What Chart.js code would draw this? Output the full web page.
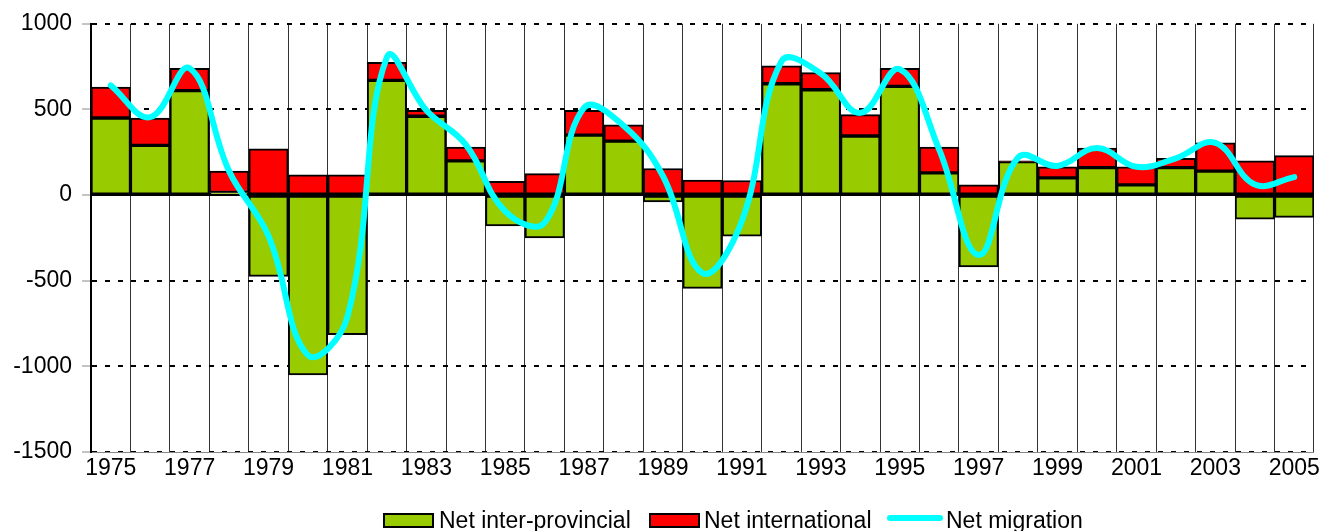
<!DOCTYPE html>
<html>
<head>
<meta charset="utf-8">
<script src="https://cdn.jsdelivr.net/npm/chart.js@4.4.0/dist/chart.umd.min.js"></script>
<style>
  html, body { margin: 0; padding: 0; background: #fff; }
  #wrap { position: relative; width: 1323px; height: 531px; }
  canvas { position: absolute; left: 0; top: 0; }
  .lg { position: absolute; font-family: "Liberation Sans", Arial, sans-serif; font-size: 23px; line-height: 22px; color: #000; white-space: nowrap; }
  .box { position: absolute; box-sizing: border-box; border: 2px solid #000; }
  .ln { position: absolute; background: #00FFFF; border-radius: 3px; }
</style>
</head>
<body>
<div id="wrap">
  <canvas id="c" width="1323" height="531"></canvas>
  <div class="box" style="left:383px;top:513px;width:51px;height:15px;background:#99CC00;"></div>
  <div class="lg" style="left:439px;top:509px;">Net inter-provincial</div>
  <div class="box" style="left:649px;top:513px;width:51px;height:15px;background:#FF0000;"></div>
  <div class="lg" style="left:704px;top:509px;">Net international</div>
  <div class="ln" style="left:887px;top:515px;width:56px;height:6px;"></div>
  <div class="lg" style="left:946px;top:509px;">Net migration</div>
</div>
<script>
const years = [1975,1976,1977,1978,1979,1980,1981,1982,1983,1984,1985,1986,1987,1988,1989,1990,
               1991,1992,1993,1994,1995,1996,1997,1998,1999,2000,2001,2002,2003,2004,2005];
const netInterProvincial = [450,290,610,15,-475,-1050,-815,670,460,200,-180,-250,350,315,-40,-545,
                            -240,650,615,345,635,130,-420,195,100,160,60,160,140,-140,-130];
const netInternational = [180,160,130,125,270,118,118,105,35,80,80,125,145,95,155,88,
                          85,105,100,125,105,150,60,5,65,115,105,55,165,200,230];
const netMigration = [640,455,740,140,-240,-935,-710,805,495,295,-95,-160,510,405,110,-455,
                      -150,780,710,480,735,265,-350,220,170,275,165,215,305,62,105];
const yTicks = [-1500,-1000,-500,0,500,1000];

const FONT = '"Liberation Sans", Arial, sans-serif';

new Chart(document.getElementById('c'), {
  data: {
    labels: years.map(String),
    datasets: [
      {
        type: 'line', label: 'Net migration', data: netMigration, stack: 'line',
        borderColor: '#00FFFF', borderWidth: 6, pointRadius: 0, tension: 0.4,
        fill: false, order: 0, borderCapStyle: 'round', borderJoinStyle: 'round'
      },
      {
        type: 'bar', label: 'Net inter-provincial', data: netInterProvincial, stack: 'bars',
        backgroundColor: '#99CC00', borderColor: '#000', borderWidth: 2, borderSkipped: false,
        barPercentage: 1, categoryPercentage: 1, order: 1
      },
      {
        type: 'bar', label: 'Net international', data: netInternational, stack: 'bars',
        backgroundColor: '#FF0000', borderColor: '#000', borderWidth: 2, borderSkipped: false,
        barPercentage: 1, categoryPercentage: 1, order: 1
      }
    ]
  },
  options: {
    responsive: false,
    animation: false,
    layout: { padding: { top: 22, right: 9, bottom: 47, left: 0 } },
    plugins: { legend: { display: false }, tooltip: { enabled: false } },
    scales: {
      x: {
        stacked: true,
        offset: true,
        grid: { offset: true, color: '#333', lineWidth: 1, drawTicks: false },
        border: { display: true, color: '#888', width: 1 },
        ticks: {
          autoSkip: false, maxRotation: 0, minRotation: 0, padding: 3,
          color: '#000', font: { family: FONT, size: 23 },
          callback: function(v, i) { return i % 2 === 0 ? this.getLabelForValue(v) : ''; }
        },
        afterFit: s => { s.height = 32; }
      },
      y: {
        stacked: true,
        min: -1500, max: 1000,
        afterBuildTicks: s => { s.ticks = yTicks.map(v => ({ value: v })); },
        grid: {
          color: '#000',
          lineWidth: 2,
          tickLength: 9,
          tickColor: '#888',
          tickWidth: 1,
          tickBorderDash: []
        },
        border: {
          display: true, color: '#000', width: 2,
          dash: c => (c && c.type === 'tick' && c.tick && c.tick.value !== 0) ? [5, 8] : []
        },
        ticks: {
          padding: 10, color: '#000', font: { family: FONT, size: 23 },
          callback: v => String(v)
        },
        afterFit: s => { s.width = 91; }
      }
    }
  }
});
</script>
</body>
</html>
